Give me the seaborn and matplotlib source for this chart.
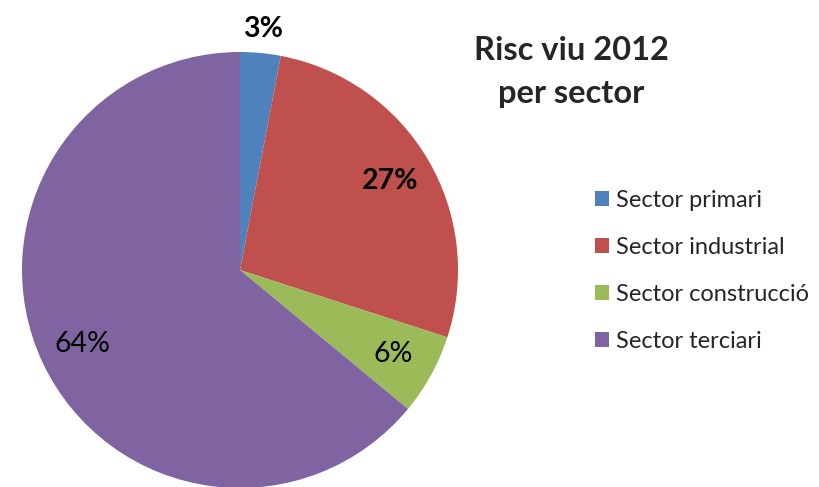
import matplotlib
matplotlib.use("Agg")
import matplotlib.pyplot as plt
import seaborn as sns
import numpy as np

# data
sectors = ["Sector primari", "Sector industrial", "Sector construcció", "Sector terciari"]
shares = [3, 27, 6, 64]
colors = ["#4F81BD", "#C0504D", "#9BBB59", "#8064A2"]
title = "Risc viu 2012\nper sector"

sns.set_theme(style="white")
plt.rcParams["font.family"] = ["Lato", "DejaVu Sans"]

fig = plt.figure(figsize=(8.19, 4.87), dpi=100)
W, H = 819, 487
cx, cy, r = 240, 270, 218
ax = fig.add_axes([(cx - r) / W, (H - cy - r) / H, 2 * r / W, 2 * r / H])

wedges, texts, autotexts = ax.pie(
    shares, colors=colors, startangle=90, counterclock=False,
    autopct=lambda p: f"{p:.0f}%", pctdistance=0.8,
    wedgeprops={"linewidth": 0, "edgecolor": "none"},
    textprops={"fontsize": 20.5, "color": "black"},
)
ax.set_xlim(-1, 1)
ax.set_ylim(-1, 1)
ax.set_aspect("equal")

# smallest slice gets its label outside the pie
w0 = wedges[0]
mid = np.deg2rad((w0.theta1 + w0.theta2) / 2)
autotexts[0].set_position((1.11 * np.cos(mid), 1.11 * np.sin(mid)))
autotexts[0].set_fontweight("bold")
autotexts[1].set_fontweight("bold")

fig.text(571 / W, 1 - 72 / H, title, ha="center", va="center",
         fontsize=23.5, fontweight="bold", linespacing=1.6)

fig.legend(wedges, sectors, loc="center left", bbox_to_anchor=(583 / W, 1 - 271 / H),
           frameon=False, fontsize=17, handlelength=0.6, handleheight=0.6,
           handletextpad=0.3, labelspacing=1.1, borderpad=0)

fig.savefig("out.png", dpi=100)
